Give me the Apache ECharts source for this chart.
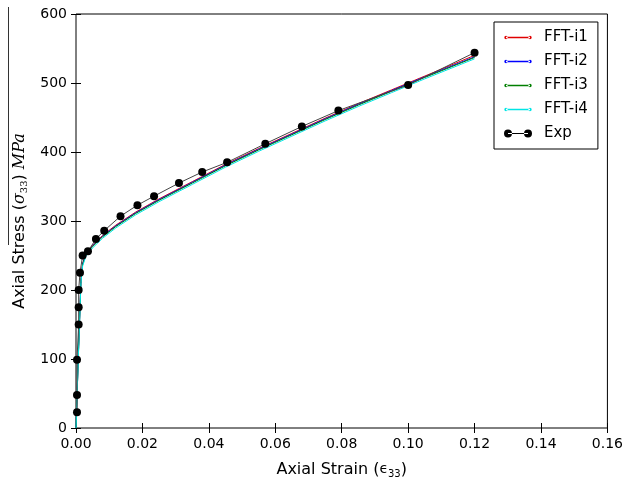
<!DOCTYPE html>
<html><head><meta charset="utf-8">
<script src="https://cdn.jsdelivr.net/npm/echarts@6/dist/echarts.min.js"></script>
<style>html,body{margin:0;padding:0;background:#fff}#c{width:626px;height:485px}</style>
</head><body><div id="c"></div>
<script>
const xTicks = [0, 0.02, 0.04, 0.06, 0.08, 0.10, 0.12, 0.14, 0.16];
const yTicks = [0, 100, 200, 300, 400, 500, 600];
const fft1 = [[0,0],[0.0008,120],[0.0015,216],[0.002,239],[0.003,253],[0.005,265],[0.008,279],[0.012,294],[0.018,313],[0.025,332],[0.035,357],[0.045,382],[0.055,405],[0.065,427],[0.075,449],[0.085,470],[0.095,490],[0.105,510],[0.12,540]];
const fft2 = [[0,0],[0.0008,119],[0.0015,214],[0.002,238],[0.003,252],[0.005,264],[0.008,278],[0.012,293],[0.018,312],[0.025,331],[0.035,356],[0.045,381],[0.055,404],[0.065,426],[0.075,448],[0.085,469],[0.095,489],[0.105,509],[0.12,538]];
const fft3 = [[0,0],[0.0008,118],[0.0015,213],[0.002,237],[0.003,251],[0.005,263],[0.008,277],[0.012,292],[0.018,311],[0.025,330],[0.035,355],[0.045,380],[0.055,403],[0.065,425],[0.075,447],[0.085,468],[0.095,488],[0.105,508],[0.12,537]];
const fft4 = [[0,0],[0.0008,116],[0.0015,211],[0.002,235],[0.003,249],[0.005,261],[0.008,275],[0.012,290],[0.018,309],[0.025,328],[0.035,353],[0.045,378],[0.055,401],[0.065,423],[0.075,445],[0.085,466],[0.095,486],[0.105,506],[0.12,535]];
const expData = [[0.0003,23],[0.0003,48],[0.0003,99],[0.0008,150],[0.0008,175],[0.0008,200],[0.0012,225],[0.002,250],[0.0036,256],[0.006,274],[0.0085,286],[0.0134,307],[0.0185,323],[0.0235,336],[0.031,355],[0.038,371],[0.0455,385],[0.057,412],[0.068,437],[0.079,460],[0.100,497],[0.120,544]];
const legendNames = ['FFT-i1','FFT-i2','FFT-i3','FFT-i4','Exp'];
const colors = ['#e00000', '#0000ff', '#007f00', '#00e5e5', '#000000'];

const font = 'DejaVu Sans';
// legend icons: line with end markers (tiny corner specks fix the 28x14 box)
const corners = 'M0,0 L0.01,0 L0,0.01 Z M28,14 L27.99,14 L28,13.99 Z ';
const dot = (cx, cy, r) => `M${cx - r},${cy} A${r},${r} 0 1,0 ${cx + r},${cy} A${r},${r} 0 1,0 ${cx - r},${cy} Z `;
const fftIcon = 'path://' + corners + 'M2,6.3 L26,6.3 L26,7.7 L2,7.7 Z ' + dot(2, 7, 1.7) + dot(26, 7, 1.7);
const expIcon = 'path://' + corners + 'M4,6.4 L24,6.4 L24,7.6 L4,7.6 Z ' + dot(4, 7, 4) + dot(24, 7, 4);

const chart = echarts.init(document.getElementById('c'));
const mk = (name, data, color) => ({
  name, type: 'line', data, color, symbol: 'circle', symbolSize: 2, showSymbol: false,
  lineStyle: {width: 1, color}, itemStyle: {color}, z: 3
});
chart.setOption({
  animation: false,
  grid: {left: 76, right: 14, top: 14, bottom: 57, show: true, borderColor: '#000', borderWidth: 1},
  legend: {
    orient: 'vertical', left: 494, top: 22, width: 117,
    backgroundColor: '#fff', borderColor: '#000', borderWidth: 1,
    padding: [8, 10, 8, 10], itemGap: 9, itemWidth: 28, itemHeight: 14,
    textStyle: {fontFamily: font, fontSize: 15, color: '#000', padding: [0, 0, 0, 7]},
    data: legendNames.map((n, i) => ({
      name: n, icon: i < 4 ? fftIcon : expIcon,
      itemStyle: {color: colors[i], borderColor: colors[i], borderWidth: 0, opacity: 1}
    }))
  },
  xAxis: [{
    type: 'value', min: 0, max: 0.16, interval: 0.02,
    axisLine: {show: false}, splitLine: {show: false},
    axisTick: {inside: true, length: 5, lineStyle: {color: '#000'}},
    axisLabel: {fontFamily: font, fontSize: 14, color: '#000', margin: 9, formatter: v => v.toFixed(2)},
    name: '{t|Axial Strain (}{e|ϵ}{s|33}{t|)}', nameLocation: 'middle', nameGap: 32,
    nameTextStyle: {rich: {
      t: {fontFamily: font, fontSize: 16, color: '#000'},
      e: {fontFamily: font, fontSize: 14, color: '#000'},
      s: {fontFamily: font, fontSize: 10, color: '#000', padding: [9, 0, 0, 0]}
    }}
  }, {
    type: 'value', position: 'top', min: 0, max: 0.16, interval: 0.02,
    axisLine: {show: false}, splitLine: {show: false}, axisLabel: {show: false},
    axisTick: {inside: true, length: 5, lineStyle: {color: '#000'}}
  }],
  yAxis: [{
    type: 'value', min: 0, max: 600, interval: 100,
    axisLine: {show: false}, splitLine: {show: false},
    axisTick: {inside: true, length: 5, lineStyle: {color: '#000'}},
    axisLabel: {fontFamily: font, fontSize: 14, color: '#000', margin: 9},
    name: '{t|Axial Stress (}{g|σ}{s|33}{t|) }{m|MPa}', nameLocation: 'middle', nameGap: 46, nameRotate: 90,
    nameTextStyle: {rich: {
      t: {fontFamily: font, fontSize: 16, color: '#000'},
      g: {fontFamily: 'DejaVu Serif', fontStyle: 'italic', fontSize: 16, color: '#000'},
      s: {fontFamily: 'DejaVu Serif', fontSize: 10, color: '#000', padding: [9, 0, 0, 0]},
      m: {fontFamily: 'DejaVu Serif', fontStyle: 'italic', fontSize: 16, color: '#000'}
    }}
  }, {
    type: 'value', position: 'right', min: 0, max: 600, interval: 100,
    axisLine: {show: false}, splitLine: {show: false}, axisLabel: {show: false},
    axisTick: {inside: true, length: 5, lineStyle: {color: '#000'}}
  }],
  graphic: [{type: 'line', shape: {x1: 8.5, y1: 7, x2: 8.5, y2: 245}, style: {stroke: '#333', lineWidth: 1}}],
  series: [
    mk('FFT-i1', fft1, colors[0]),
    mk('FFT-i2', fft2, colors[1]),
    mk('FFT-i3', fft3, colors[2]),
    mk('FFT-i4', fft4, colors[3]),
    {name: 'Exp', type: 'line', data: expData, symbol: 'circle', symbolSize: 8,
     lineStyle: {width: 1, color: '#444'}, itemStyle: {color: '#000'}, color: '#000', z: 4}
  ]
});
</script></body></html>
